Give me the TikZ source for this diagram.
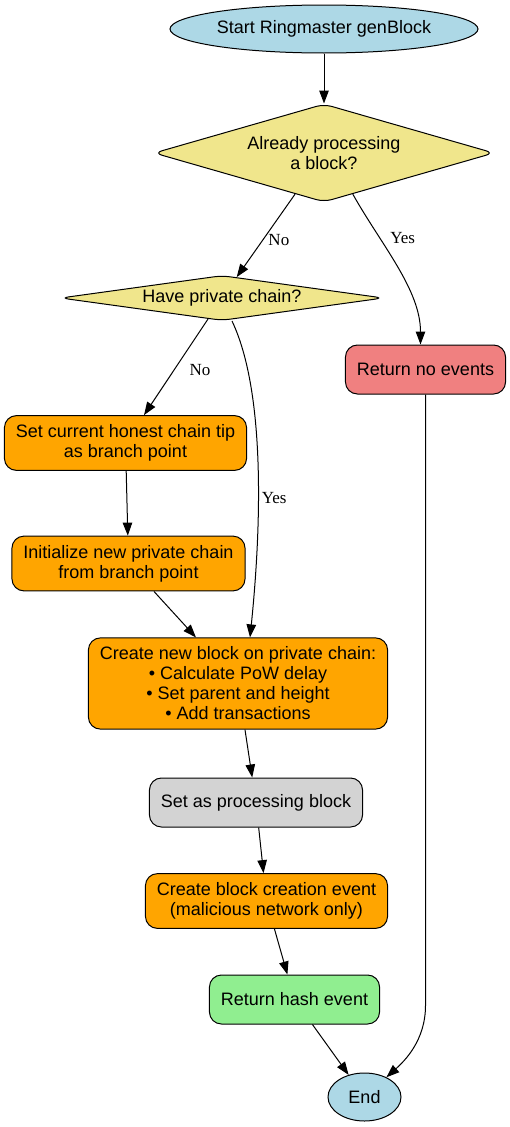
\documentclass[tikz,border=0pt]{standalone}
\usepackage{fontspec}
\setmainfont{Liberation Sans}
\newfontfamily\edgefont{Liberation Serif}
\usetikzlibrary{shapes.geometric, arrows.meta, positioning}
\usepackage{xcolor}
\definecolor{termblue}{HTML}{ADD8E6}
\definecolor{decyellow}{HTML}{F0E68C}
\definecolor{actorange}{HTML}{FFA500}
\definecolor{failred}{HTML}{F08080}
\definecolor{stategray}{HTML}{D3D3D3}
\definecolor{okgreen}{HTML}{90EE90}

\begin{document}
\begin{tikzpicture}[
    x=1pt, y=-1pt,
    nodefont/.style={font=\fontsize{18}{20}\selectfont},
    box/.style={rectangle, draw, rounded corners=12pt, line width=1pt, inner xsep=11.5pt, inner ysep=9pt, minimum height=49pt, align=center, nodefont},
    termbox/.style={ellipse, draw, line width=1pt, fill=termblue, inner sep=0pt, minimum height=48pt, nodefont},
    decbox/.style={diamond, draw, rounded corners=8pt, line width=1pt, fill=decyellow, inner sep=0pt, align=center, nodefont},
    actbox/.style={box, fill=actorange},
    failbox/.style={box, fill=failred},
    statebox/.style={box, fill=stategray},
    okbox/.style={box, fill=okgreen},
    arrow/.style={-{Triangle[length=13pt, width=9.5pt]}, line width=1pt},
    lbl/.style={inner sep=2pt, font=\edgefont\fontsize{17}{19}\selectfont}
]
\useasboundingbox (0,0) rectangle (510,1127);

% nodes, placed centre to centre
\node[termbox, minimum width=308pt] (start) at (324,29) {Start Ringmaster genBlock};
\node[decbox, minimum width=340pt, minimum height=98pt, aspect=3.5, below=124pt of start.center, anchor=center] (busy) {Already processing\\a block?};
\node[decbox, minimum width=323pt, minimum height=45pt, aspect=7, below=145pt of busy.center, xshift=-102pt, anchor=center] (chain) {Have private chain?};
\node[failbox, below=216.5pt of busy.center, xshift=101.5pt, anchor=center] (none) {Return no events};
\node[actbox, below=145pt of chain.center, xshift=-96.5pt, anchor=center] (tip) {Set current honest chain tip\\as branch point};
\node[actbox, below=120.5pt of tip.center, xshift=3pt, anchor=center] (init) {Initialize new private chain\\from branch point};
\node[actbox, below=120pt of init.center, xshift=109.5pt, anchor=center] (create) {Create new block on private chain:\\• Calculate PoW delay\\• Set parent and height\\• Add transactions};
\node[statebox, below=119pt of create.center, xshift=18pt, anchor=center] (setproc) {Set as processing block};
\node[actbox, below=98.5pt of setproc.center, xshift=10.5pt, anchor=center] (event) {Create block creation event\\(malicious network only)};
\node[okbox, below=98.5pt of event.center, xshift=28pt, anchor=center] (hash) {Return hash event};
\node[termbox, minimum width=73pt, below=97.5pt of hash.center, xshift=70pt, anchor=center] (finish) {End};

% connectors
\draw[arrow] (start) -- (busy);
\draw[arrow] (busy) -- node[lbl, pos=0.55, right=3pt] {No} (chain);
\draw[arrow] (busy.-55) .. controls +(28,50) and +(0,-55) .. node[lbl, pos=0.3, right=8pt] {Yes} ([xshift=-5pt]none.north);
\draw[arrow] (chain) -- node[lbl, pos=0.53, right=13pt] {No} (tip);
\draw[arrow] ([xshift=10pt]chain.south) .. controls +(38,80) and +(8,-78) .. node[lbl, pos=0.55, right=1pt] {Yes} ([xshift=12pt]create.north);
\draw[arrow] (tip) -- (init);
\draw[arrow] (init) -- (create);
\draw[arrow] (create) -- (setproc);
\draw[arrow] (setproc) -- (event);
\draw[arrow] (event) -- (hash);
\draw[arrow] (hash) -- (finish);
\draw[arrow] (none.south) -- ++(0,611) .. controls +(0,35) and +(40,-36) .. (finish);
\end{tikzpicture}
\end{document}
